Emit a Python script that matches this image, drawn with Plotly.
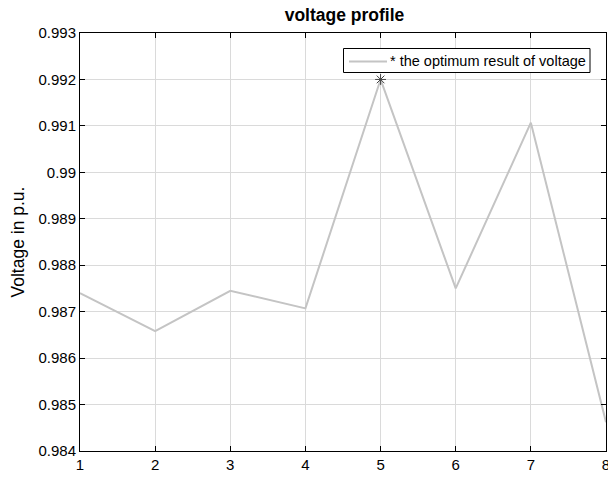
import plotly.graph_objects as go

bus = [1, 2, 3, 4, 5, 6, 7, 8]
voltage = [0.98740, 0.98658, 0.98745, 0.98707, 0.99200, 0.98750, 0.99107, 0.98462]
opt_bus = [5]
opt_voltage = [0.99200]
y_ticks = [0.984, 0.985, 0.986, 0.987, 0.988, 0.989, 0.99, 0.991, 0.992, 0.993]
y_labels = ["0.984", "0.985", "0.986", "0.987", "0.988", "0.989", "0.99", "0.991", "0.992", "0.993"]
x_ticks = [1, 2, 3, 4, 5, 6, 7, 8]
legend_label = "* the optimum result of voltage"

FONT = "Liberation Sans, Arial, Helvetica"
LINE_COLOR = "#c4c4c4"
W, H = 608, 477
L, R, T, B = 80, 2, 33, 26
PW, PH = W - L - R, H - T - B


def px(xp):
    return (xp - L) / PW


def py(yp):
    return (H - B - yp) / PH


fig = go.Figure()
fig.add_trace(go.Scatter(x=bus, y=voltage, mode="lines",
                         line=dict(color=LINE_COLOR, width=2),
                         name=legend_label, showlegend=False))
fig.add_trace(go.Scatter(x=opt_bus, y=opt_voltage, mode="markers",
                         marker=dict(symbol="asterisk", size=9, color="#444444",
                                     line=dict(color="#444444", width=1)),
                         showlegend=False, cliponaxis=False))

axis_common = dict(showline=True, linecolor="black", linewidth=1, mirror="ticks",
                   ticks="inside", ticklen=5, tickcolor="black",
                   showgrid=True, gridcolor="#dadada", gridwidth=1,
                   zeroline=False, automargin=False, ticklabeloverflow="allow",
                   tickfont=dict(family=FONT, size=15, color="black"))

# legend box drawn to match the reference's compact legend
shapes = [
    dict(type="rect", xref="paper", yref="paper", x0=px(343.5), x1=px(590), y0=py(72.5), y1=py(48.5),
         line=dict(color="black", width=1), fillcolor="white", layer="above"),
    dict(type="line", xref="paper", yref="paper", x0=px(349), x1=px(387), y0=py(61.5), y1=py(61.5),
         line=dict(color=LINE_COLOR, width=2), layer="above"),
]

fig.update_layout(
    width=W, height=H,
    margin=dict(l=L, r=R, t=T, b=B),
    paper_bgcolor="white", plot_bgcolor="white",
    showlegend=False,
    title=dict(text="<b>voltage profile</b>", x=344.5 / W, xanchor="center",
               xref="container", y=1 - 9 / H, yanchor="top", yref="container",
               font=dict(family=FONT, size=17.5, color="black")),
    xaxis=dict(range=[1, 8], tickvals=x_ticks, **axis_common),
    yaxis=dict(range=[0.984, 0.993], tickvals=y_ticks, ticktext=y_labels, **axis_common),
    shapes=shapes,
    annotations=[
        dict(text="Voltage in p.u.", textangle=-90, xref="paper", yref="paper",
             x=px(17.5), y=py(242), xanchor="center", yanchor="middle",
             showarrow=False, font=dict(family=FONT, size=17.5, color="black")),
        dict(text=legend_label, xref="paper", yref="paper",
             x=px(388), y=py(61), xanchor="left", yanchor="middle",
             showarrow=False, font=dict(family=FONT, size=14.5, color="black")),
    ],
)

fig.write_html("out.html", config={"displayModeBar": False},
               post_script="document.body.style.margin='0';document.body.style.overflow='hidden';")
